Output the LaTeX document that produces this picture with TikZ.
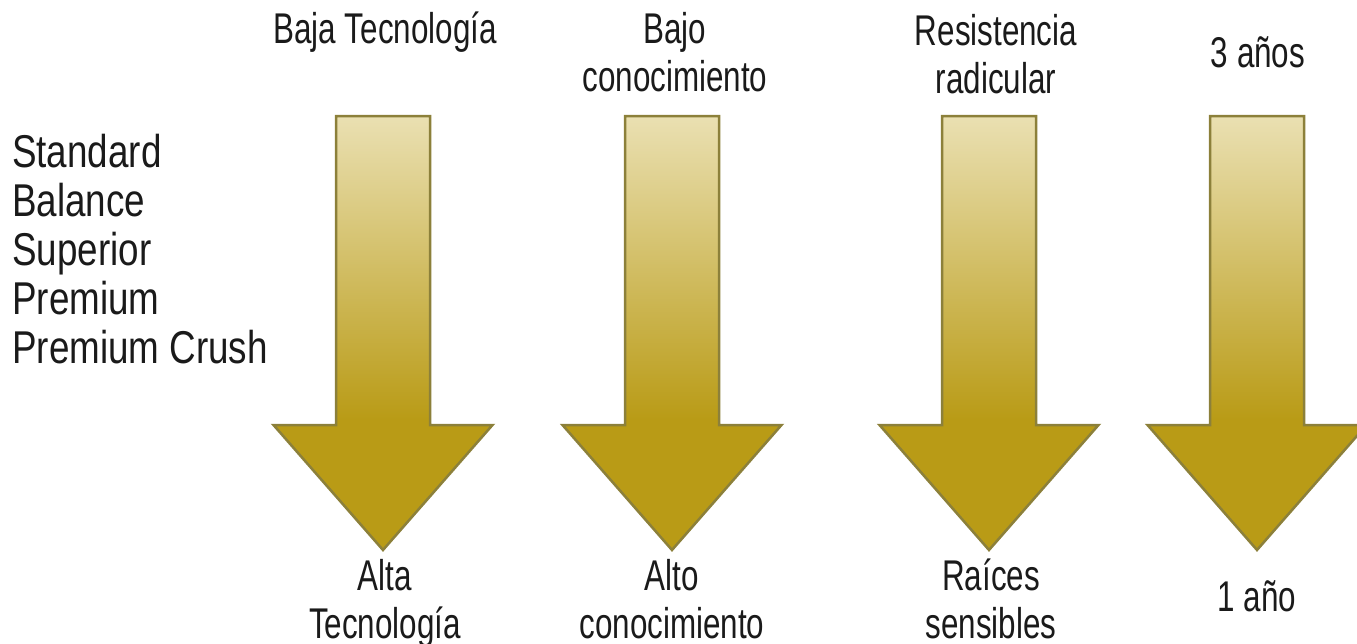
\documentclass[tikz,border=0pt]{standalone}
\usepackage{fontspec}
\usepackage{tikz}
\usetikzlibrary{positioning}
\newfontfamily\listfont[FakeStretch=0.8]{Liberation Sans}
\newfontfamily\labelfont[FakeStretch=0.73]{Liberation Sans}
\definecolor{goldlight}{RGB}{234,224,178}
\definecolor{golddark}{RGB}{185,155,22}
\definecolor{goldline}{RGB}{140,128,58}
\definecolor{inktext}{RGB}{26,26,26}
\pgfdeclareverticalshading{goldfade}{100bp}{color(0bp)=(golddark); color(25bp)=(golddark); color(40bp)=(golddark); color(75bp)=(goldlight); color(100bp)=(goldlight)}
\newcommand{\goldarrow}[1]{\draw[bigarrow] (#1-47,116) -- (#1+47,116) -- (#1+47,425) -- (#1+109.5,425) -- (#1,550) -- (#1-109.5,425) -- (#1-47,425) -- cycle;}
\tikzstyle{bigarrow} = [draw=goldline, line width=2.5pt, line join=miter, shading=goldfade]
\tikzstyle{toplabel} = [anchor=base, align=center, inner sep=0pt, text=inktext, font=\labelfont\fontsize{43}{48}\selectfont]
\tikzstyle{listlabel} = [anchor=base west, align=left, inner sep=0pt, text=inktext, font=\listfont\fontsize{46}{49}\selectfont]

\begin{document}
\begin{tikzpicture}[x=1pt, y=-1pt]
			\useasboundingbox (0,0) rectangle (1357,643);
			\goldarrow{383}
			\goldarrow{672}
			\goldarrow{989}
			\goldarrow{1257}
			% anchor base = baseline of the last line
			\node[listlabel] (grades) at (12,363) {Standard\\Balance\\Superior\\Premium\\Premium Crush};
			\node[toplabel] (tech) at (385,43) {Baja Tecnología};
			\node[toplabel] (know) at (675,91) {Bajo\\conocimiento};
			\node[toplabel] (root) at (996,93) {Resistencia\\radicular};
			\node[toplabel] (years) at (1258,67) {3 años};
			\node[toplabel] (hitech) at (385,638) {Alta\\Tecnología};
			\node[toplabel] (hiknow) at (672,638) {Alto\\conocimiento};
			\node[toplabel] (roots) at (991,638) {Raíces\\sensibles};
			\node[toplabel] (year) at (1257,611) {1 año};
		\end{tikzpicture}
\end{document}
